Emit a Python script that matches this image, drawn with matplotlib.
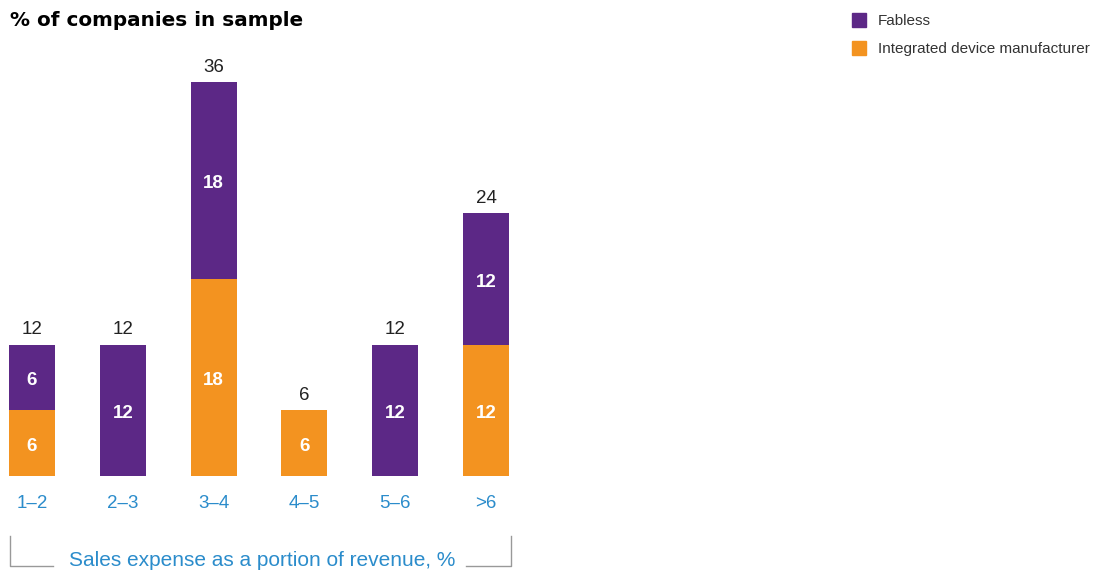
import matplotlib
matplotlib.use("Agg")
import matplotlib.pyplot as plt
from matplotlib.patches import Rectangle
from matplotlib.lines import Line2D
import numpy as np

categories = ["1–2", "2–3", "3–4", "4–5", "5–6", ">6"]
idm = [6, 0, 18, 6, 0, 12]
fabless = [6, 12, 18, 0, 12, 12]
totals = [12, 12, 36, 6, 12, 24]

PURPLE = "#5C2886"
ORANGE = "#F39320"
BLUE = "#2B8CCB"

plt.rcParams['font.family'] = ['Liberation Sans', 'DejaVu Sans']

W, H = 1108, 571
fig = plt.figure(figsize=(W / 100, H / 100), dpi=100)

def fx(px):
    return px / W

def fy(py):
    return 1 - py / H

PXU = 10.94  # pixels per unit
ax = fig.add_axes([fx(0), fy(476), fx(530), (476 - 40) / H])
x = np.arange(len(categories))
step = 90.8
ax.set_xlim(-32 / step, (530 - 32) / step)
ax.set_ylim(0, (476 - 40) / PXU)
ax.axis("off")

bw = 46 / step
ax.bar(x, idm, width=bw, color=ORANGE)
ax.bar(x, fabless, width=bw, bottom=idm, color=PURPLE)

for i in range(len(categories)):
    if idm[i] > 0:
        ax.text(x[i], idm[i] / 2 - 3 / PXU, str(idm[i]), ha="center", va="center",
                color="white", fontsize=13.5, fontweight="bold")
    if fabless[i] > 0:
        ax.text(x[i], idm[i] + fabless[i] / 2 - 3 / PXU, str(fabless[i]), ha="center",
                va="center", color="white", fontsize=13.5, fontweight="bold")
    ax.text(x[i], totals[i] + 15 / PXU, str(totals[i]), ha="center", va="center",
            color="#222222", fontsize=13.5)
    ax.text(x[i], -27 / PXU, categories[i], ha="center", va="center",
            color=BLUE, fontsize=13.5, clip_on=False)

# Title
fig.text(fx(10), fy(21), "% of companies in sample", ha="left", va="center",
         fontsize=14.4, fontweight="bold", color="black", family="DejaVu Sans")

# Legend
for py, lab, col in [(20, "Fabless", PURPLE), (48, "Integrated device manufacturer", ORANGE)]:
    fig.add_artist(Rectangle((fx(852), fy(py + 7)), fx(14), 14 / H, color=col,
                             transform=fig.transFigure))
    fig.text(fx(878), fy(py + 1), lab, ha="left", va="center", fontsize=11, color="#333333")

# Bracket
gray = "#999999"
fig.add_artist(Line2D([fx(10), fx(10), fx(53)], [fy(536), fy(566), fy(566)],
                      color=gray, lw=1, transform=fig.transFigure))
fig.add_artist(Line2D([fx(466), fx(511), fx(511)], [fy(566), fy(566), fy(536)],
                      color=gray, lw=1, transform=fig.transFigure))
fig.text(fx(262), fy(561), "Sales expense as a portion of revenue, %", ha="center",
         va="center", fontsize=15, color=BLUE)

fig.savefig("out.png", dpi=100)
